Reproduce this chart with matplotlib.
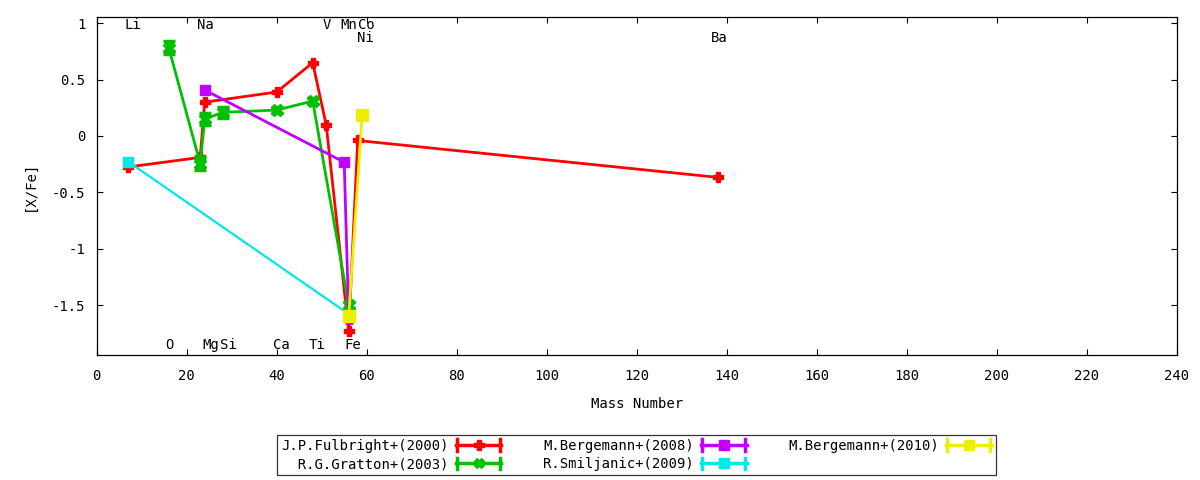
import matplotlib
matplotlib.use("Agg")
import matplotlib.pyplot as plt
from matplotlib.lines import Line2D
from matplotlib.legend_handler import HandlerBase

plt.rcParams['font.family'] = ['DejaVu Sans Mono']
FS = 10

# ---- data ----
ful_x = [7, 23, 24, 40, 48, 51, 56, 58, 138]
ful_y = [-0.275, -0.19, 0.30, 0.39, 0.65, 0.098, -1.73, -0.04, -0.367]

grat_x = [16, 23, 24, 28, 40, 48, 56]
grat_y = [0.785, -0.245, 0.15, 0.21, 0.23, 0.31, -1.50]
grat_e = [0.06, 0.06, 0.05, 0.05, 0.03, 0.03, 0.03]

b08_x = [24, 55, 56]
b08_y = [0.408, -0.233, -1.60]
b08_e = [0.0, 0.0, 0.055]

smil_x = [7, 56]
smil_y = [-0.228, -1.58]

b10_x = [56, 59]
b10_y = [-1.597, 0.186]
b10_e = [0.01, 0.035]

labels = ["J.P.Fulbright+(2000)", "  R.G.Gratton+(2003)", "M.Bergemann+(2008)",
          "R.Smiljanic+(2009)", "M.Bergemann+(2010)"]
colors = ["#ff0000", "#00c000", "#c000ff", "#00e8e8", "#eeee00"]

elem_names = ["Li", "Na", "V", "Mn", "Co", "Ni", "Ba", "O", "Mg", "Si", "Ca", "Ti", "Fe"]
elem_x = [6.94, 22.99, 50.94, 54.94, 58.93, 58.69, 137.33, 16.00, 24.31, 28.09, 40.08, 47.87, 55.85]
elem_row = [0, 0, 0, 0, 0, 1, 1, 2, 2, 2, 2, 2, 2]
row_y = [0.982, 0.866, -1.855]

xticks = list(range(0, 241, 20))
yticks = [-1.5, -1, -0.5, 0, 0.5, 1]
ytick_labels = ["-1.5", "-1", "-0.5", "0", "0.5", "1"]

# ---- figure ----
fig = plt.figure(figsize=(12, 4.8), dpi=100)
ax = fig.add_axes([96.7/1200, 1-355/480, 1080/1200, (355-17.3)/480])

LW = 2.0
ax.plot(ful_x, ful_y, color=colors[0], lw=LW, marker='P', ms=7.5, zorder=3)
ax.errorbar(grat_x, grat_y, yerr=grat_e, color=colors[1], lw=LW, marker='X', ms=8,
            elinewidth=2.5, capsize=4, capthick=2.5, zorder=3)
ax.errorbar(b08_x, b08_y, yerr=b08_e, color=colors[2], lw=LW, marker='s', ms=7,
            elinewidth=2, capsize=3, capthick=2, zorder=3)
ax.plot(smil_x, smil_y, color=colors[3], lw=1.6, marker='s', ms=7, zorder=3)
ax.errorbar(b10_x, b10_y, yerr=b10_e, color=colors[4], lw=LW, marker='s', ms=8,
            elinewidth=2, capsize=3, capthick=2, zorder=4)

for name, mx, r in zip(elem_names, elem_x, elem_row):
    ax.text(mx - 0.8, row_y[r], name, ha='left', va='center', fontsize=FS)

ax.set_xlim(0, 240)
ax.set_ylim(-1.943, 1.053)
ax.set_xticks(xticks)
ax.set_xticklabels([str(t) for t in xticks])
ax.set_yticks(yticks)
ax.set_yticklabels(ytick_labels)
ax.tick_params(direction='in', top=True, right=True, length=4, width=0.8, labelsize=FS)
ax.tick_params(axis='x', pad=10)
ax.tick_params(axis='y', pad=8)
for s in ax.spines.values():
    s.set_linewidth(0.9)

ax.set_xlabel("Mass Number", fontsize=FS)
ax.set_ylabel("[X/Fe]", fontsize=FS)
ax.xaxis.set_label_coords(0.5, -0.125)
ax.yaxis.set_label_coords(-0.0555, 0.5)


class ErrLineHandler(HandlerBase):
    def create_artists(self, legend, orig_handle, xdescent, ydescent, width, height, fontsize, trans):
        c = orig_handle.get_color()
        y = height / 2 - ydescent
        x0 = -xdescent
        x1 = width - xdescent
        h = 4.0
        arts = [Line2D([x0, x1], [y, y], color=c, lw=2.5),
                Line2D([x0 + 1, x0 + 1], [y - h, y + h], color=c, lw=2.5),
                Line2D([x1 - 1, x1 - 1], [y - h, y + h], color=c, lw=2.5),
                Line2D([(x0 + x1) / 2], [y], color=c, marker=orig_handle.get_marker(),
                       ms=orig_handle.get_markersize(), lw=0)]
        for a in arts:
            a.set_transform(trans)
        return arts


markers = ['P', 'X', 's', 's', 's']
handles = [Line2D([], [], color=c, marker=m, ms=7) for c, m in zip(colors, markers)]
leg = fig.legend(handles, labels, loc='center', bbox_to_anchor=(636.5/1200, 1-455/480),
                 ncol=3, markerfirst=False, fontsize=FS, frameon=True, fancybox=False,
                 edgecolor='black', handlelength=3.3, handletextpad=0.5, columnspacing=3.0,
                 labelspacing=0.3, borderpad=0.3,
                 handler_map={Line2D: ErrLineHandler()})
leg.get_frame().set_linewidth(0.9)

fig.savefig("out.png", dpi=100)
